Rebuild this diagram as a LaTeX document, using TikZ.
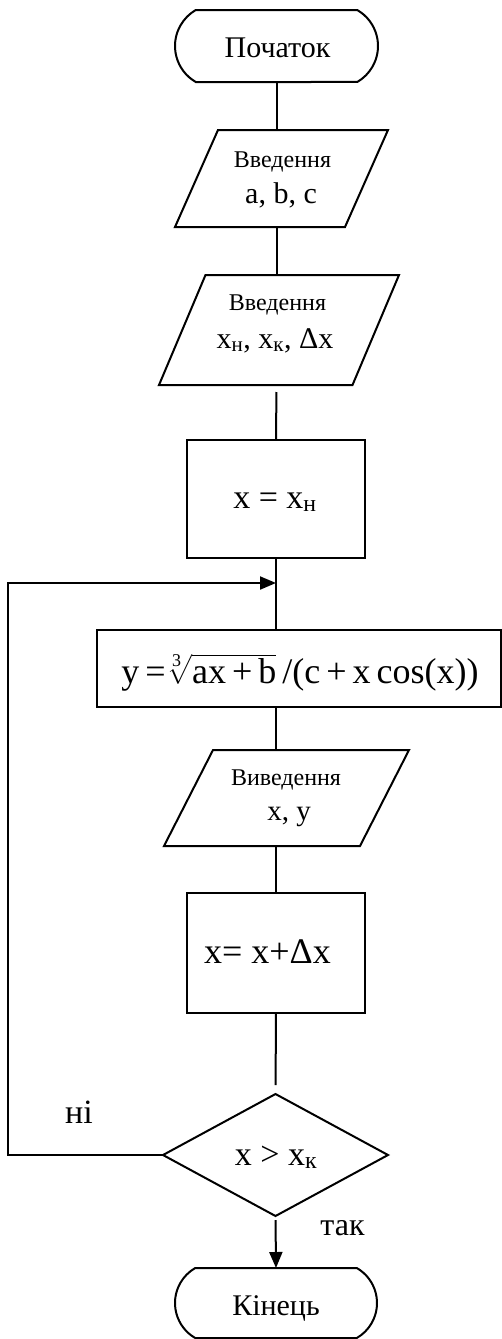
\documentclass[tikz,border=0pt]{standalone}
\usepackage{fontspec}
\usepackage{amsmath}
\setmainfont{Liberation Serif}
\usetikzlibrary{shapes.geometric,shapes.misc,arrows.meta}
\newcommand\fsz[1]{\fontsize{#1}{#1}\selectfont}
\begin{document}
\begin{tikzpicture}[x=1pt,y=-1pt,
  line width=2pt,
  every node/.style={inner sep=0pt, outer sep=0pt},
  term/.style={draw, rounded rectangle, rounded rectangle arc length=120},
  procbox/.style={draw, rectangle},
  iobody/.style={draw=none, rectangle},
  decide/.style={draw, diamond},
  lbl/.style={anchor=base},
  arr/.style={-{Triangle[length=16pt,width=13pt]}},
]
\useasboundingbox (0,0) rectangle (502,1339);

% shapes
\node[term, minimum width=203pt, minimum height=72pt] (start) at (276.5,46) {};
\node[iobody, minimum width=170pt, minimum height=97pt] (p1) at (281.5,178.5) {};
\node[iobody, minimum width=193.5pt, minimum height=110pt] (p2) at (279,330) {};
\node[procbox, minimum width=178pt, minimum height=118pt] (b1) at (276,499) {};
\node[procbox, minimum width=404pt, minimum height=77pt] (b2) at (299,668.5) {};
\node[iobody, minimum width=196pt, minimum height=96pt] (p3) at (286.5,798) {};
\node[procbox, minimum width=178pt, minimum height=120pt] (b3) at (276,953) {};
\node[decide, minimum width=225pt, minimum height=122pt] (d) at (275.5,1155) {};
\node[term, minimum width=202pt, minimum height=70pt] (end) at (276,1303) {};

\foreach \n/\s in {p1/43,p2/46.5,p3/49}
  \draw ([xshift=-\s/2]\n.south west) -- ([xshift=\s/2]\n.north west)
     -- ([xshift=\s/2]\n.north east) -- ([xshift=-\s/2]\n.south east) -- cycle;

% texts
\node[lbl, font=\fsz{30}] (tstart) at (277.5,57) {Початок};
\node[lbl, font=\fsz{24}] (tp1a) at (282.5,167) {Введення};
\node[lbl, font=\fsz{30}] (tp1b) at (281,203) {a, b, c};
\node[lbl, font=\fsz{24}] (tp2a) at (277.5,310) {Введення};
\node[lbl, font=\fsz{30}] (tp2b) at (275,348) {x\textsubscript{н}, x\textsubscript{к}, Δx};
\node[lbl, font=\fsz{34}] (tb1) at (275,508) {x = x\textsubscript{н}};
\node[lbl, font=\fsz{36}] (tb2) at (300,683)
  {y\,=\kern-0.5pt$\sqrt[\text{3}]{\text{ax\,+\,b}}$\,/(c\,+\,x\,cos(x))};
\node[lbl, font=\fsz{24}] (tp3a) at (286,785) {Виведення};
\node[lbl, font=\fsz{29}] (tp3b) at (289,820) {x, y};
\node[lbl, font=\fsz{36}] (tb3) at (267.5,963) {x= x+Δx};
\node[lbl, font=\fsz{34}] (td) at (276,1165) {x > x\textsubscript{к}};
\node[lbl, font=\fsz{34}] (tni) at (79,1123) {ні};
\node[lbl, font=\fsz{32}] (ttak) at (342.5,1235) {так};
\node[lbl, font=\fsz{30}] (tend) at (276,1315) {Кінець};

% connectors
\coordinate (j) at (276,583);
\coordinate (lc) at (8,1155);
\draw (start.south) -- (start.south |- p1.north);
\draw (start.south |- p1.south) -- (start.south |- p2.north);
\draw[shorten <=7pt] (start.south |- p2.south) -- (b1.north);
\draw (b1.south) -- (b1.south |- b2.north);
\draw (b1.south |- b2.south) -- (b1.south |- p3.north);
\draw (b1.south |- p3.south) -- (b3.north);
\draw[shorten >=9pt] (b3.south) -- (d.north);
\draw[arr, shorten <=4pt] (d.south) -- (end.north);
\draw[arr] (d.west) -- (lc) |- (j);
\end{tikzpicture}
\end{document}
